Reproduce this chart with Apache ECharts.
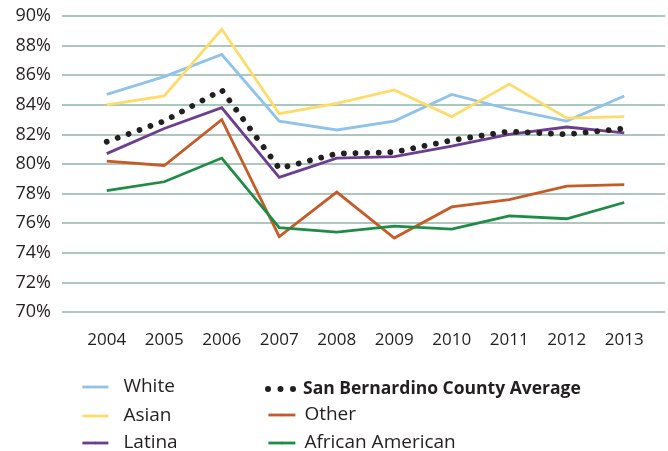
<!DOCTYPE html>
<html>
<head>
<meta charset="utf-8">
<script src="https://cdn.jsdelivr.net/npm/echarts@6/dist/echarts.min.js"></script>
<style>
  html, body { margin: 0; padding: 0; background: #fff; }
  #chart { width: 668px; height: 451px; }
</style>
</head>
<body>
<div id="chart"></div>
<script>
  // 年份
  var years = ['2004', '2005', '2006', '2007', '2008', '2009', '2010', '2011', '2012', '2013'];
  // 各组数值 (%)
  var white = [84.7, 85.9, 87.4, 82.9, 82.3, 82.9, 84.7, 83.7, 82.9, 84.6];
  var asian = [84.0, 84.6, 89.1, 83.4, 84.1, 85.0, 83.2, 85.4, 83.1, 83.2];
  var latina = [80.7, 82.4, 83.8, 79.1, 80.4, 80.5, 81.2, 82.0, 82.5, 82.1];
  var countyAvg = [81.5, 82.9, 85.0, 79.7, 80.7, 80.8, 81.6, 82.2, 82.0, 82.4];
  var other = [80.2, 79.9, 83.0, 75.1, 78.1, 75.0, 77.1, 77.6, 78.5, 78.6];
  var africanAmerican = [78.2, 78.8, 80.4, 75.7, 75.4, 75.8, 75.6, 76.5, 76.3, 77.4];
  var yTicks = [70, 72, 74, 76, 78, 80, 82, 84, 86, 88, 90];

  var textColor = '#231f20';
  var font = 'Open Sans';
  var dotsIcon = 'path://M0,3a3,3 0 1,0 6,0a3,3 0 1,0 -6,0zM12.5,3a3,3 0 1,0 6,0a3,3 0 1,0 -6,0zM25,3a3,3 0 1,0 6,0a3,3 0 1,0 -6,0z';

  var chart = echarts.init(document.getElementById('chart'), null, { renderer: 'canvas' });

  function lineSeries(name, data, color) {
    return {
      name: name,
      type: 'line',
      xAxisIndex: 1,
      yAxisIndex: 1,
      data: data,
      symbol: 'none',
      smooth: false,
      silent: true,
      animation: false,
      lineStyle: { color: color, width: 2.8, cap: 'butt', join: 'miter' },
      itemStyle: { color: color }
    };
  }

  // 一个图例项一个 legend，方便精确定位
  function legendItem(name, left, centerY, opt) {
    opt = opt || {};
    return {
      show: true,
      left: left,
      top: centerY - 8,
      padding: 0,
      orient: 'vertical',
      itemWidth: opt.itemWidth || 26,
      itemHeight: opt.itemHeight || 3,
      selectedMode: false,
      lineStyle: { width: 2.8 },
      data: [{
        name: name,
        icon: opt.icon,
        textStyle: opt.textStyle
      }],
      textStyle: Object.assign({
        color: textColor,
        fontFamily: font,
        fontSize: 19,
        lineHeight: 20,
        padding: [0, 0, 0, opt.pad || 0]
      }, opt.textStyle || {})
    };
  }

  var avgSeries = lineSeries('San Bernardino County Average', countyAvg, textColor);
  avgSeries.lineStyle = { color: textColor, width: 5.8, type: [0.01, 11.6], cap: 'round' };
  avgSeries.z = 5;

  chart.setOption({
    animation: false,
    grid: [
      { left: 62, right: 3, top: 16, bottom: 139 },
      { left: 78, right: 15, top: 16, bottom: 139 }
    ],
    xAxis: [
      { type: 'category', gridIndex: 0, data: years, show: false },
      {
        type: 'category',
        gridIndex: 1,
        data: years,
        boundaryGap: true,
        axisLine: { show: false },
        axisTick: { show: false },
        axisLabel: { color: textColor, fontFamily: font, fontSize: 17, margin: 20 }
      }
    ],
    yAxis: [
      {
        type: 'value',
        gridIndex: 0,
        min: yTicks[0],
        max: yTicks[yTicks.length - 1],
        interval: 2,
        axisLine: { show: false },
        axisTick: { show: false },
        axisLabel: {
          color: textColor,
          fontFamily: font,
          fontSize: 18,
          margin: 11,
          formatter: '{value}%'
        },
        splitLine: { lineStyle: { color: '#8fb5a8', width: 1.6 } }
      },
      {
        type: 'value',
        gridIndex: 1,
        min: yTicks[0],
        max: yTicks[yTicks.length - 1],
        interval: 2,
        show: false,
        splitLine: { show: false }
      }
    ],
    legend: [
      legendItem('White', 81, 385, { pad: 10 }),
      legendItem('Asian', 81, 414, { pad: 10 }),
      legendItem('Latina', 81, 441, { pad: 10 }),
      legendItem('San Bernardino County Average', 265, 387, {
        icon: dotsIcon, itemWidth: 31, itemHeight: 6, pad: 2,
        textStyle: { fontWeight: 'bold', fontSize: 17.5 }
      }),
      legendItem('Other', 267, 413, { itemWidth: 27, pad: 4 }),
      legendItem('African American', 267, 441, { itemWidth: 27, pad: 4 })
    ],
    series: [
      lineSeries('White', white, '#90c3ea'),
      lineSeries('Asian', asian, '#fddc6a'),
      lineSeries('Latina', latina, '#6b3e91'),
      lineSeries('Other', other, '#c65b28'),
      lineSeries('African American', africanAmerican, '#1e8c46'),
      avgSeries
    ]
  });
</script>
</body>
</html>
